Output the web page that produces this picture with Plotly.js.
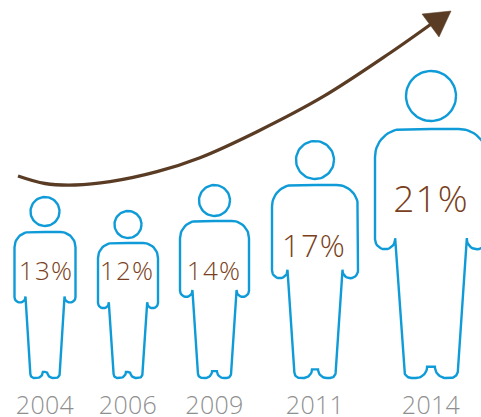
<!DOCTYPE html>
<html><head><meta charset="utf-8">
<script src="https://cdn.plot.ly/plotly-3.0.1.min.js"></script>
<style>html,body{margin:0;padding:0;background:#fff}
#chart .textpoint text{letter-spacing:1.2px}
#chart .xtick text{letter-spacing:.3px}</style></head>
<body><div id="chart" style="width:481px;height:417px"></div>
<script>
// Data
const years = ['2004','2006','2009','2011','2014'];
const shares = [13,12,14,17,21];
const trendX = [18,45,75,110,157,200,257,323,390,434];
const trendY = [176,183.5,185,181.7,171.7,157.7,131.7,96.7,53,22];

// Drawing geometry (screen-like axis units)
const centers = [45,128,214.5,315,431];
const halfWidths = [30.5,30,34.5,43,56];
const bodyTops = [232,243,221,185,129];
const headTops = [197,211,185,141,71];
const headDiams = [29,27,31,38,50];
const labelX = [46,127,214,314,431];
const labelY = [273,273,273,249,203];
const labelSize = [26,26,26,31,37];
const BASE = 378;

function arc(cx,cy,r,a0,a1,xs,ys){
  const n=14;
  for(let i=0;i<=n;i++){const a=(a0+(a1-a0)*i/n)*Math.PI/180;
    xs.push(cx+r*Math.cos(a)); ys.push(cy+r*Math.sin(a));}
}
function person(i){
  const c=centers[i],W=halfWidths[i],T=bodyTops[i],H=BASE-T;
  const r=W*0.5, armB=T+H*0.483, hand=W*0.18, legTop=W-2*hand, legBot=W*0.48;
  const crotch=W*0.07, inner=W*0.2, outer=W*0.13;
  const lx=[],ly=[],xs=[],ys=[];
  lx.push(0,crotch); ly.push(BASE-inner,BASE-inner);
  arc(crotch+inner,BASE-inner,inner,180,90,lx,ly);
  arc(legBot-outer,BASE-outer,outer,90,0,lx,ly);
  lx.push(legTop); ly.push(armB-hand*1.1);
  arc(W-hand,armB-hand,hand,180,0,lx,ly);
  arc(W-r,T+r,r,0,-90,lx,ly);
  lx.push(0); ly.push(T);
  for(let k=lx.length-1;k>=0;k--){xs.push(c-lx[k]);ys.push(ly[k]);}
  for(let k=1;k<lx.length;k++){xs.push(c+lx[k]);ys.push(ly[k]);}
  return {x:xs,y:ys};
}
function head(i){
  const xs=[],ys=[],r=headDiams[i]/2,n=60;
  for(let k=0;k<=n;k++){const a=k/n*2*Math.PI;
    xs.push(centers[i]+r*Math.cos(a));ys.push(headTops[i]+r+r*Math.sin(a));}
  return {x:xs,y:ys};
}
const BLUE='#0f9bd7', BROWN='#5a3c24';
const traces=[];
years.forEach((y,i)=>{
  const p=person(i),h=head(i);
  traces.push({type:'scatter',mode:'lines',x:p.x,y:p.y,line:{color:BLUE,width:2.4},hoverinfo:'skip'});
  traces.push({type:'scatter',mode:'lines',x:h.x,y:h.y,line:{color:BLUE,width:2.4},hoverinfo:'skip'});
});
traces.push({type:'scatter',mode:'lines',x:trendX,y:trendY,line:{color:BROWN,width:3.3,shape:'spline',smoothing:1},hoverinfo:'skip'});
traces.push({type:'scatter',mode:'lines',x:[422,451,439,422],y:[14,11,37,14],fill:'toself',fillcolor:BROWN,line:{color:BROWN,width:0.5},hoverinfo:'skip'});
traces.push({type:'scatter',mode:'text',x:labelX,y:labelY,text:shares.map(v=>v+'%'),
  textposition:'middle center',textfont:{family:'"Open Sans"',weight:300,color:'#7a3f20',size:labelSize},hoverinfo:'skip'});

Plotly.newPlot('chart',traces,{
  width:481,height:417,showlegend:false,paper_bgcolor:'#fff',plot_bgcolor:'#fff',
  margin:{l:0,r:0,t:0,b:29,pad:0},
  xaxis:{range:[0,481],showgrid:false,zeroline:false,showline:false,fixedrange:true,
    tickmode:'array',tickvals:centers,ticktext:years,ticks:'',
    tickfont:{family:'"Open Sans"',weight:300,size:25,color:'#8f8f8f'}},
  yaxis:{range:[388,0],visible:false,fixedrange:true}
},{displayModeBar:false,staticPlot:true});
</script></body></html>
